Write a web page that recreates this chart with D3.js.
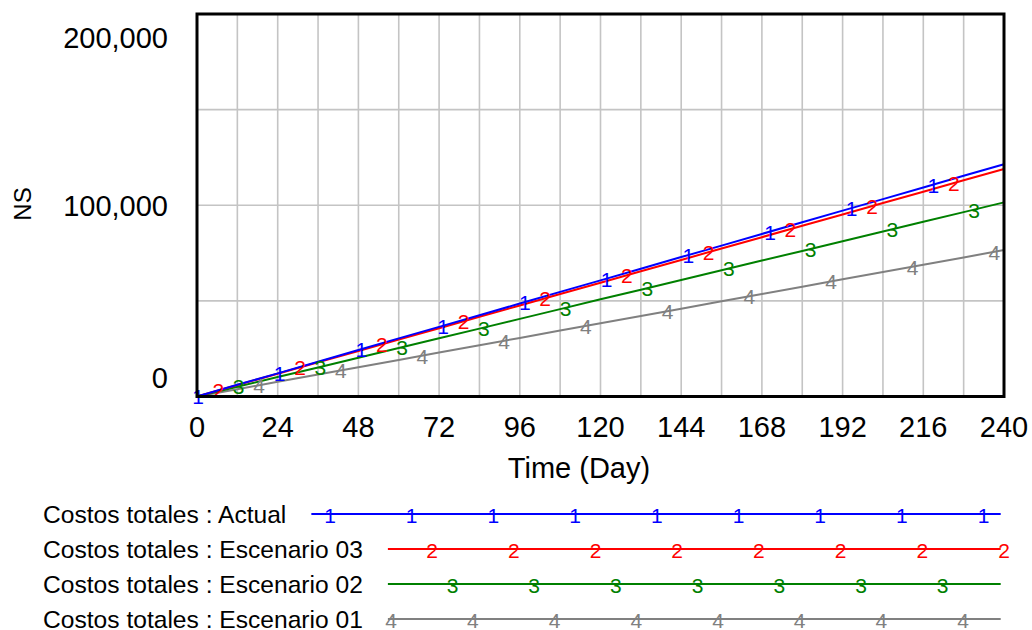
<!DOCTYPE html>
<html>
<head>
<meta charset="utf-8">
<script src="https://cdn.jsdelivr.net/npm/d3@7"></script>
<style>
  html, body { margin: 0; padding: 0; background: #fff; }
  svg { display: block; font-family: "Liberation Sans", Arial, sans-serif; }
</style>
</head>
<body>
<svg id="chart" width="1032" height="630"></svg>
<script>
// ---------------- data ----------------
const times = [0, 12, 24, 36, 48, 60, 72, 84, 96, 108, 120, 132, 144, 156, 168, 180, 192, 204, 216, 228, 240];
const seriesNames = ["Costos totales : Actual", "Costos totales : Escenario 03", "Costos totales : Escenario 02", "Costos totales : Escenario 01"];
const markerLabels = ["1", "2", "3", "4"];
const actual = [0, 6100, 12100, 18200, 24300, 30400, 36400, 42500, 48600, 54700, 60700, 66800, 72900, 78900, 85000, 91100, 97200, 103200, 109300, 115400, 121400];
const escenario03 = [0, 6000, 11900, 17900, 23800, 29800, 35700, 41700, 47600, 53600, 59500, 65500, 71400, 77400, 83300, 89300, 95200, 101200, 107100, 113100, 119000];
const escenario02 = [0, 5100, 10200, 15200, 20300, 25400, 30500, 35500, 40600, 45700, 50800, 55800, 60900, 66000, 71100, 76100, 81200, 86300, 91400, 96400, 101500];
const escenario01 = [0, 3800, 7700, 11500, 15300, 19100, 23000, 26800, 30600, 34500, 38300, 42100, 45900, 49800, 53600, 57400, 61300, 65100, 68900, 72700, 76600];
const seriesValues = [actual, escenario03, escenario02, escenario01];
const xTicks = [0, 24, 48, 72, 96, 120, 144, 168, 192, 216, 240];
const xGrid = [12, 24, 36, 48, 60, 72, 84, 96, 108, 120, 132, 144, 156, 168, 180, 192, 204, 216, 228];
const yTicks = [0, 100000, 200000];
const yGrid = [50000, 100000, 150000];
const markerStartDay = [0.3, 6.35, 12.4, 18.45];
const markerEveryDay = 24.3;
const xTitle = "Time (Day)";
const yTitle = "NS";

// ---------------- styles ----------------
const colors = ["#0000ff", "#ff0000", "#008000", "#808080"];
const plot = { left: 197, right: 1004, top: 14, bottom: 396.5 };

const svg = d3.select("#chart");
const x = d3.scaleLinear().domain([0, 240]).range([plot.left, plot.right]);
const y = d3.scaleLinear().domain([0, 200000]).range([plot.bottom, plot.top]);

// grid
const grid = svg.append("g").attr("stroke", "#c4c4c4").attr("stroke-width", 1.6);
grid.selectAll("line.v").data(xGrid).join("line").attr("class", "v")
  .attr("x1", d => x(d)).attr("x2", d => x(d)).attr("y1", plot.top).attr("y2", plot.bottom);
grid.selectAll("line.h").data(yGrid).join("line").attr("class", "h")
  .attr("x1", plot.left).attr("x2", plot.right).attr("y1", d => y(d)).attr("y2", d => y(d));

// lines (draw gray first, blue last)
const line = d3.line().x(d => x(d[0])).y(d => y(d[1]));
const order = [3, 2, 1, 0];
order.forEach(i => {
  const pts = times.map((t, j) => [t, seriesValues[i][j]]);
  svg.append("path").datum(pts)
    .attr("fill", "none").attr("stroke", colors[i]).attr("stroke-width", 2)
    .attr("d", line);
});

// markers on lines
function valueAt(vals, t) {
  const k = Math.min(times.length - 2, Math.max(0, d3.bisectRight(times, t) - 1));
  const f = (t - times[k]) / (times[k + 1] - times[k]);
  return vals[k] + f * (vals[k + 1] - vals[k]);
}
order.forEach(i => {
  const ms = d3.range(markerStartDay[i], 240.01, markerEveryDay);
  svg.append("g").selectAll("text").data(ms).join("text")
    .attr("x", d => x(d)).attr("y", d => y(valueAt(seriesValues[i], d)) + 8)
    .attr("text-anchor", "middle").attr("font-size", 21).attr("fill", colors[i])
    .text(markerLabels[i]);
});

// frame
svg.append("rect").attr("x", plot.left).attr("y", plot.top)
  .attr("width", plot.right - plot.left).attr("height", plot.bottom - plot.top)
  .attr("fill", "none").attr("stroke", "#000").attr("stroke-width", 3);

// y tick labels
svg.append("g").selectAll("text").data(yTicks).join("text")
  .attr("x", 168).attr("text-anchor", "end").attr("font-size", 29).attr("fill", "#000")
  .attr("y", (d, i) => {
    if (i === 0) return y(d) - 9;
    if (i === yTicks.length - 1) return y(d) + 34;
    return y(d) + 11;
  })
  .text(d => d3.format(",")(d));

// x tick labels
svg.append("g").selectAll("text").data(xTicks).join("text")
  .attr("x", d => x(d)).attr("y", 437).attr("text-anchor", "middle")
  .attr("font-size", 29).attr("fill", "#000")
  .text(d => d);

// axis titles
svg.append("text").attr("x", 579).attr("y", 478).attr("text-anchor", "middle")
  .attr("font-size", 29).attr("fill", "#000").text(xTitle);
svg.append("text").attr("transform", "translate(31,204) rotate(-90)")
  .attr("text-anchor", "middle").attr("font-size", 24).attr("fill", "#000").text(yTitle);

// legend
const legendRowY = d3.scaleLinear().domain([0, 1]).range([514, 549]);
const legendEnd = 1000.7;
const legendMarkStep = 81.7;
const legendPhase = [3.2, 23.6, 44.0, 64.4];
seriesNames.forEach((name, i) => {
  const ry = legendRowY(i);
  const t = svg.append("text").attr("x", 43).attr("y", ry + 9)
    .attr("font-size", 24.6).attr("fill", "#000").text(name);
  const start = 43 + t.node().getComputedTextLength() + 25;
  svg.append("line").attr("x1", start).attr("x2", legendEnd).attr("y1", ry).attr("y2", ry)
    .attr("stroke", colors[i]).attr("stroke-width", 2);
  const marks = d3.range(legendPhase[i], legendEnd + 5, legendMarkStep).filter(v => v >= start);
  svg.append("g").selectAll("text").data(marks).join("text")
    .attr("x", d => d).attr("y", ry + 9).attr("text-anchor", "middle")
    .attr("font-size", 21).attr("fill", colors[i]).text(markerLabels[i]);
});
</script>
</body>
</html>
